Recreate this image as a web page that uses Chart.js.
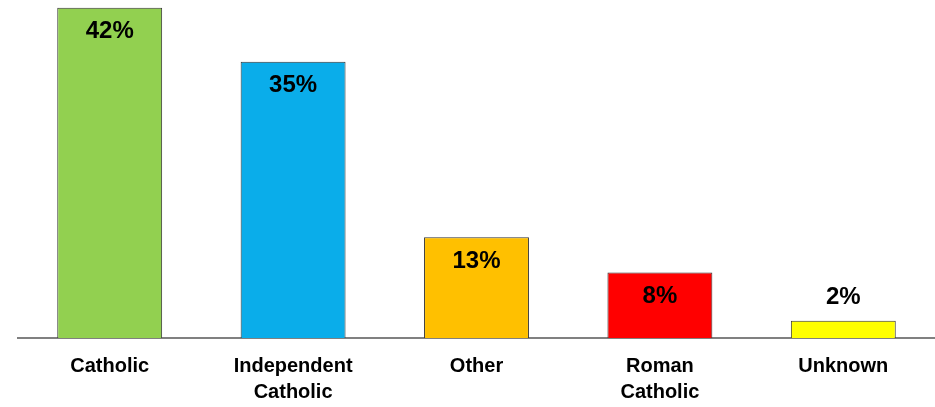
<!DOCTYPE html>
<html>
<head>
<meta charset="utf-8">
<script src="https://cdn.jsdelivr.net/npm/chart.js@4"></script>
<style>
  html, body { margin:0; padding:0; background:#fff; }
  #wrap { width:935px; height:407px; }
</style>
</head>
<body>
<div id="wrap"><canvas id="chartAgama"></canvas></div>
<script>
const kategori = [['Catholic'], ['Independent', 'Catholic'], ['Other'], ['Roman', 'Catholic'], ['Unknown']];
const nilai = [42.3, 35.4, 12.9, 8.4, 2.2];
const warna = ['#92D050', '#0AADEA', '#FFC000', '#FF0000', '#FFFF00'];

// label persen di atas/dalam batang
const labelPersen = {
  id: 'labelPersen',
  afterDatasetsDraw(chart) {
    const ctx = chart.ctx;
    const meta = chart.getDatasetMeta(0);
    ctx.save();
    ctx.font = 'bold 24px "Liberation Sans", Arial, sans-serif';
    ctx.fillStyle = '#000';
    ctx.textAlign = 'center';
    ctx.textBaseline = 'middle';
    meta.data.forEach((bar, i) => {
      const tinggi = bar.base - bar.y;
      const y = tinggi > 50 ? bar.y + 24 : bar.y - 23;
      ctx.fillText(Math.round(nilai[i]) + '%', bar.x, y);
    });
    ctx.restore();
  }
};

new Chart(document.getElementById('chartAgama'), {
  type: 'bar',
  data: {
    labels: kategori,
    datasets: [{
      data: nilai,
      backgroundColor: warna,
      borderColor: '#333',
      borderWidth: 1,
      borderSkipped: 'bottom',
      categoryPercentage: 1,
      barPercentage: 0.572
    }]
  },
  options: {
    responsive: true,
    maintainAspectRatio: false,
    animation: false,
    layout: { padding: { left: 18, right: 0, top: 0, bottom: -5 } },
    plugins: { legend: { display: false }, tooltip: { enabled: false } },
    scales: {
      y: { display: false, min: 0, max: 43.3 },
      x: {
        grid: { display: false },
        border: { display: true, color: '#808080', width: 2 },
        ticks: {
          padding: 7,
          color: '#000',
          font: { family: '"Liberation Sans", Arial, sans-serif', size: 20, weight: 'bold', lineHeight: 1.3 },
          maxRotation: 0
        }
      }
    }
  },
  plugins: [labelPersen]
});
</script>
</body>
</html>
